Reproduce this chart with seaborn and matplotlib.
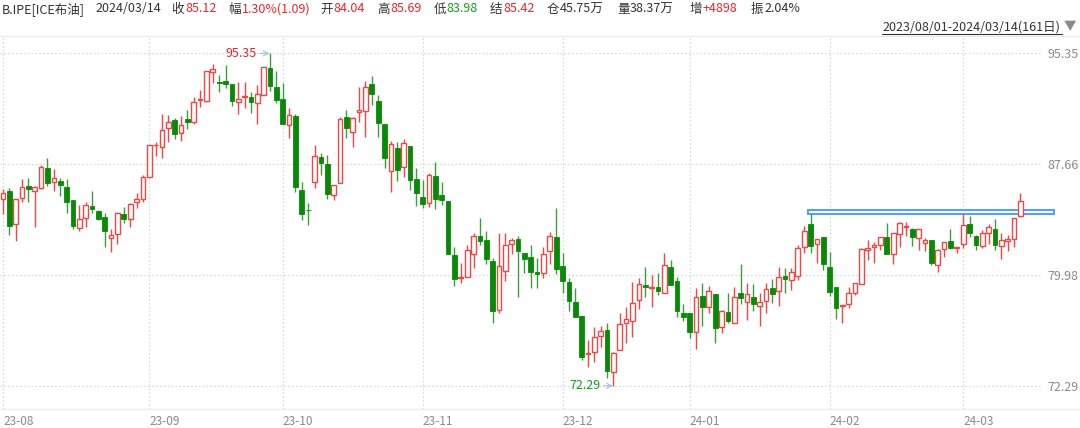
import numpy as np
import pandas as pd
import matplotlib
matplotlib.use("Agg")
import matplotlib.pyplot as plt
import seaborn as sns
from matplotlib.patches import Rectangle
from matplotlib.lines import Line2D

# daily OHLC, B.IPE (ICE Brent), 2023/08/01 - 2024/03/14
opens = [85.23, 85.83, 83.50, 85.30, 86.18, 85.81, 86.00, 87.38, 86.41, 86.51,
         86.11, 85.19, 83.22, 83.92, 84.79, 84.42, 83.98, 82.57, 82.80, 84.24,
         83.85, 85.02, 85.23, 86.81, 88.98, 88.89, 90.16, 90.74, 89.81, 90.81,
         90.62, 92.13, 92.06, 94.05, 93.35, 93.42, 93.26, 91.96, 92.33, 92.36,
         91.89, 92.45, 94.35, 93.05, 92.17, 90.39, 91.02, 85.88, 84.49, 86.46,
         88.15, 87.68, 85.51, 86.34, 90.97, 89.91, 91.27, 91.39, 93.21, 92.08,
         90.46, 87.19, 88.81, 87.50, 88.93, 86.64, 85.41, 85.00, 86.87, 85.53,
         85.14, 81.37, 79.75, 79.82, 81.44, 82.68, 82.41, 80.95, 77.55, 80.28,
         82.11, 82.45, 81.48, 81.25, 80.16, 80.14, 81.64, 82.59, 80.62, 79.47,
         78.08, 77.13, 74.50, 74.61, 75.77, 76.16, 73.27, 74.77, 76.67, 76.81,
         78.24, 79.26, 79.05, 79.12, 78.75, 80.56, 79.56, 77.36, 77.36, 76.04,
         78.54, 77.73, 78.66, 76.35, 77.43, 76.67, 78.70, 78.13, 78.43, 77.83,
         78.17, 79.05, 78.89, 79.91, 79.63, 79.93, 81.94, 83.49, 82.13, 82.64,
         80.56, 79.12, 77.82, 77.96, 78.70, 79.33, 81.71, 81.94, 82.06, 82.59,
         81.44, 82.82, 83.33, 83.17, 82.52, 82.22, 82.41, 80.67, 81.78, 82.34,
         81.83, 82.11, 83.52, 82.71, 82.01, 82.91, 83.17, 82.01, 82.36, 82.45,
         84.04]
highs = [85.95, 85.99, 85.23, 86.62, 86.74, 86.18, 87.62, 88.08, 87.32, 86.69,
         86.62, 85.19, 84.84, 85.03, 85.83, 84.49, 84.26, 83.17, 84.38, 84.72,
         85.00, 85.65, 86.92, 88.98, 89.23, 91.16, 91.09, 90.85, 91.02, 91.43,
         92.36, 92.82, 94.14, 94.62, 93.86, 94.56, 93.26, 93.40, 93.35, 92.66,
         93.17, 94.39, 95.35, 94.14, 93.28, 91.55, 91.16, 86.46, 85.00, 89.00,
         88.47, 88.31, 86.20, 90.92, 91.43, 90.97, 93.00, 93.44, 93.79, 92.47,
         90.46, 89.28, 89.23, 89.39, 88.93, 87.38, 86.57, 87.03, 87.80, 86.45,
         85.14, 81.94, 80.79, 82.06, 82.87, 83.96, 83.03, 81.13, 82.92, 82.92,
         82.52, 82.68, 81.48, 82.06, 81.13, 81.94, 82.98, 84.65, 81.53, 79.75,
         79.05, 77.13, 75.47, 76.39, 76.46, 76.62, 74.66, 77.32, 77.78, 79.52,
         79.75, 80.56, 79.98, 80.09, 81.48, 81.02, 79.86, 77.96, 77.36, 79.05,
         79.40, 79.21, 78.66, 77.55, 78.71, 79.12, 80.72, 79.40, 79.35, 78.71,
         79.40, 79.70, 80.56, 80.49, 80.49, 82.06, 83.40, 84.19, 82.45, 82.64,
         81.60, 79.12, 77.89, 79.12, 79.45, 81.87, 82.41, 82.29, 82.64, 83.56,
         82.87, 83.63, 83.63, 83.21, 83.15, 82.52, 82.41, 81.76, 82.24, 83.15,
         81.94, 84.30, 84.07, 82.75, 83.10, 83.49, 83.84, 82.87, 82.75, 83.91,
         85.69]
lows = [84.22, 82.76, 82.36, 85.07, 85.03, 83.29, 85.93, 86.18, 85.83, 85.49,
        84.26, 83.15, 83.06, 83.34, 84.26, 83.80, 81.95, 81.60, 82.13, 83.57,
        83.29, 84.61, 85.07, 86.81, 88.26, 88.08, 89.24, 89.42, 89.28, 90.09,
        90.46, 91.66, 92.01, 93.28, 92.66, 92.94, 91.71, 91.16, 91.59, 91.20,
        90.44, 92.45, 92.77, 91.89, 90.48, 89.47, 85.77, 83.80, 83.45, 86.00,
        86.92, 85.23, 85.19, 86.34, 89.47, 88.89, 90.62, 89.58, 91.78, 89.58,
        87.38, 85.76, 86.52, 86.80, 85.88, 84.77, 84.60, 84.72, 84.56, 84.84,
        81.41, 79.24, 79.40, 79.82, 80.44, 82.06, 80.74, 76.62, 77.32, 79.58,
        81.44, 78.43, 80.14, 79.05, 79.05, 79.75, 80.74, 80.02, 78.75, 77.50,
        77.04, 74.08, 73.62, 73.96, 75.00, 72.81, 72.29, 74.77, 75.24, 75.70,
        77.59, 78.47, 77.78, 78.59, 78.75, 79.28, 77.09, 76.81, 75.58, 74.82,
        76.46, 77.32, 75.24, 75.93, 76.62, 76.67, 77.96, 76.85, 77.50, 76.46,
        77.32, 78.06, 77.82, 78.70, 78.94, 79.63, 81.53, 81.48, 80.79, 80.32,
        78.52, 76.90, 76.62, 77.66, 78.59, 79.33, 81.02, 80.79, 81.71, 81.44,
        80.74, 81.94, 82.68, 81.99, 81.71, 81.64, 80.67, 80.21, 81.25, 81.78,
        81.53, 81.83, 82.64, 81.71, 81.83, 82.11, 81.71, 81.06, 81.67, 81.94,
        83.98]
closes = [85.65, 83.41, 85.23, 86.11, 85.95, 86.11, 87.50, 86.34, 86.74, 86.23,
          85.07, 83.38, 83.84, 84.82, 84.56, 83.87, 83.06, 82.76, 84.26, 83.85,
          84.91, 85.23, 86.81, 88.98, 89.00, 90.04, 90.60, 89.77, 90.39, 90.62,
          91.96, 92.18, 94.14, 94.25, 93.32, 93.21, 92.08, 92.17, 92.38, 91.99,
          92.54, 94.39, 93.12, 92.13, 90.48, 91.06, 86.11, 84.19, 84.47, 88.22,
          87.73, 85.58, 86.20, 90.78, 90.16, 90.90, 91.41, 93.00, 92.52, 90.50,
          88.07, 89.05, 87.26, 89.11, 86.57, 85.65, 84.91, 86.94, 85.25, 85.18,
          81.41, 79.70, 79.86, 81.71, 82.68, 82.36, 81.07, 77.48, 80.60, 82.06,
          82.41, 81.67, 81.09, 80.16, 80.02, 81.44, 82.68, 80.37, 79.58, 78.20,
          77.04, 74.31, 74.55, 75.70, 76.09, 73.32, 74.59, 76.58, 76.90, 78.01,
          79.35, 79.12, 79.17, 78.89, 80.67, 79.28, 77.48, 77.09, 76.04, 78.43,
          77.78, 78.87, 76.28, 77.48, 76.78, 78.47, 78.36, 78.64, 77.94, 78.08,
          78.98, 78.66, 79.86, 79.72, 80.21, 81.83, 83.03, 82.01, 82.45, 80.72,
          78.82, 77.66, 77.89, 78.75, 79.40, 81.76, 81.83, 82.06, 82.64, 81.44,
          82.87, 83.56, 83.35, 82.59, 83.15, 82.41, 80.79, 81.71, 82.24, 81.83,
          81.94, 83.45, 82.87, 82.06, 82.87, 83.33, 82.06, 82.41, 82.45, 83.91,
          85.12]

price_ticks = [95.35, 87.66, 79.98, 72.29]
max_idx, max_val = 42, 95.35
min_idx, min_val = 96, 72.29
channel_start, channel_low, channel_high = 127, 84.21, 84.47

dates = pd.bdate_range("2023-08-01", "2024-03-14")
dates = dates.drop(pd.to_datetime(["2023-12-25", "2024-01-01"]))

header = [
    ("B.IPE[ICE布油]", 2, "#333333"), ("2024/03/14", 95, "#333333"),
    ("收", 171, "#333333"), ("85.12", 185, "#e8262c"),
    ("幅", 228, "#333333"), ("1.30%(1.09)", 242, "#e8262c"),
    ("开", 320, "#333333"), ("84.04", 333, "#e8262c"),
    ("高", 377, "#333333"), ("85.69", 390, "#e8262c"),
    ("低", 434, "#333333"), ("83.98", 446, "#1a9a1a"),
    ("结", 490, "#333333"), ("85.42", 503, "#e8262c"),
    ("仓", 547, "#333333"), ("45.75万", 560, "#333333"),
    ("量", 617, "#333333"), ("38.37万", 630, "#333333"),
    ("增", 690, "#333333"), ("+4898", 703, "#e8262c"),
    ("振", 751, "#333333"), ("2.04%", 764, "#333333"),
]

sns.set_theme(style="white")
plt.rcParams['font.family'] = ['Noto Sans CJK SC', 'DejaVu Sans']

df = pd.DataFrame({"open": opens, "high": highs, "low": lows, "close": closes})
df["idx"] = np.arange(len(df))
up = df[df.close >= df.open]
down = df[df.close < df.open]

RED = "#f04646"
GREEN = "#088a08"
GRID = "#d6d6d6"

W, H = 1080, 428
fig = plt.figure(figsize=(W / 100, H / 100), dpi=100)
ax = fig.add_axes([0, (H - 409) / H, 1042 / W, (409 - 36) / H])
ax.set_xlim(-0.47, 163.4)
ax.set_ylim(70.68, 96.56)

# wicks
ax.vlines(up.idx, up.low, up.high, color=RED, lw=1, zorder=3)
ax.vlines(down.idx, down.low, down.high, color="#3a9f3a", lw=1, zorder=3)
# bodies
bw = 0.74
ax.bar(up.idx, np.maximum(up.close - up.open, 0.05), bottom=up.open, width=bw,
       facecolor="white", edgecolor=RED, linewidth=1, zorder=4)
ax.bar(down.idx, np.maximum(down.open - down.close, 0.05), bottom=down.close, width=bw,
       facecolor=GREEN, edgecolor=GREEN, linewidth=0.6, zorder=4)

# grid
for p in price_ticks:
    ax.axhline(p, color=GRID, lw=0.8, ls=(0, (1.5, 2)), zorder=1)
month_start = [i for i in range(len(dates)) if i == 0 or dates[i].month != dates[i - 1].month]
month_labels = [dates[i].strftime("%y-%m") for i in month_start]
for i in month_start:
    ax.axvline(i, color=GRID, lw=0.8, ls=(0, (1.5, 2)), zorder=1)
ax.axvline(163.4, color="#e6e6e6", lw=0.8, ls=(0, (1.5, 2)), zorder=1)

# channel box
ax.add_patch(Rectangle((channel_start - 0.45, channel_low), 165.7 - channel_start,
                       channel_high - channel_low, facecolor="none",
                       edgecolor="#4aa3f0", lw=1.4, zorder=2, clip_on=False))

# max/min annotations
ax.annotate(f"{max_val:.2f}", xy=(max_idx - 0.1, max_val), xytext=(39.9, max_val),
            ha="right", va="center", color="#e0262c", fontsize=9,
            arrowprops=dict(arrowstyle="->", color="#92c5ea", lw=0.8, shrinkA=0, shrinkB=0))
ax.annotate(f"{min_val:.2f}", xy=(min_idx - 0.1, min_val), xytext=(93.9, min_val),
            ha="right", va="center", color="#1a9a1a", fontsize=9,
            arrowprops=dict(arrowstyle="->", color="#92c5ea", lw=0.8, shrinkA=0, shrinkB=0))

# axes
ax.set_yticks(price_ticks)
ax.set_yticklabels([f"{p:.2f}" for p in price_ticks])
ax.yaxis.tick_right()
ax.tick_params(axis="y", length=0, pad=4, labelsize=9, labelcolor="#8a8a8a")
ax.set_xticks(month_start)
ax.set_xticklabels(month_labels)
ax.tick_params(axis="x", length=0, pad=4, labelsize=8.5, labelcolor="#8a8a8a")
for lbl in ax.get_xticklabels():
    lbl.set_ha("left")
for s in ax.spines.values():
    s.set_visible(False)

# frame lines across the whole figure
fig.add_artist(Line2D([0, 1], [1 - 36 / H, 1 - 36 / H], color="#ececec", lw=1))
fig.add_artist(Line2D([0, 1], [1 - 409 / H, 1 - 409 / H], color="#ececec", lw=1))

# header
for txt, x, c in header:
    fig.text(x / W, 1 - 9 / H, txt, ha="left", va="center", color=c, fontsize=9)
fig.text(882 / W, 1 - 27 / H, "2023/08/01-2024/03/14(161日)", ha="left", va="center",
         color="#333333", fontsize=9)
fig.add_artist(Line2D([882 / W, 1062 / W], [1 - 33.5 / H, 1 - 33.5 / H], color="#333333", lw=0.8))
fig.text(1064 / W, 1 - 27 / H, "▼", ha="left", va="center", color="#8a8a8a", fontsize=9)

fig.savefig("out.png", dpi=100, facecolor="white")
